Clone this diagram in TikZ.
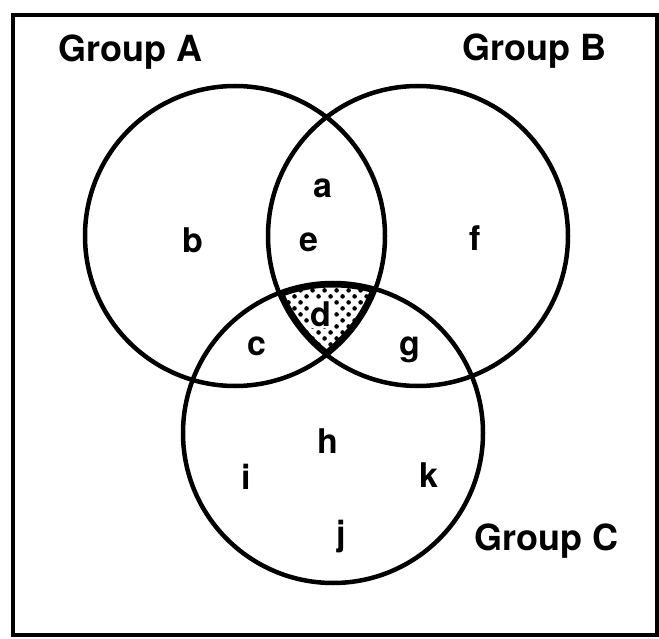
\documentclass[tikz,border=0pt]{standalone}
\usepackage{fontspec}
\setmainfont{TeX Gyre Heros}
\usetikzlibrary{patterns.meta}
\begin{document}
\begin{tikzpicture}[x=1pt,y=-1pt,
  ring/.style={line width=4.5pt},
  lbl/.style={font=\fontsize{34}{34}\selectfont\bfseries, inner sep=0pt},
  grp/.style={font=\fontsize{36}{36}\selectfont\bfseries, inner sep=0pt}]
\useasboundingbox (0,0) rectangle (659,639);
\node[draw, line width=4pt, minimum width=644pt, minimum height=620pt, inner sep=0pt] (frame) at (335,325) {};
\coordinate (A) at (235,236);
\coordinate (B) at (418,236);
\coordinate (C) at (333,433);
\begin{scope}
  \clip (A) circle[radius=150pt];
  \clip (B) circle[radius=150pt];
  \fill[pattern={Dots[angle=45,distance=8.5pt,radius=2.3pt]}] (C) circle[radius=150pt];
  \clip (C) circle[radius=150pt];
  \draw[line width=9pt] (A) circle[radius=150pt] (B) circle[radius=150pt] (C) circle[radius=150pt];
\end{scope}
\draw[ring] (A) circle[radius=150pt];
\draw[ring] (B) circle[radius=150pt];
\draw[ring] (C) circle[radius=150pt];
\node[grp] (gA) at (130,52) {Group A};
\node[grp] (gB) at (534,51) {Group B};
\node[grp] (gC) at (546,541) {Group C};
\node[lbl] (la) at (323,188) {a};
\node[lbl] (lb) at (193,240) {b};
\node[lbl] (le) at (309,242) {e};
\node[lbl] (lf) at (475,238) {f};
\node[lbl, fill=white, inner sep=1.5pt] (ld) at (321,314) {d};
\node[lbl] (lc) at (257,346) {c};
\node[lbl] (lg) at (410,350) {g};
\node[lbl] (lh) at (328,441) {h};
\node[lbl] (li) at (246,477) {i};
\node[lbl] (lk) at (429,475) {k};
\node[lbl] (lj) at (341,537) {j};
\end{tikzpicture}
\end{document}
